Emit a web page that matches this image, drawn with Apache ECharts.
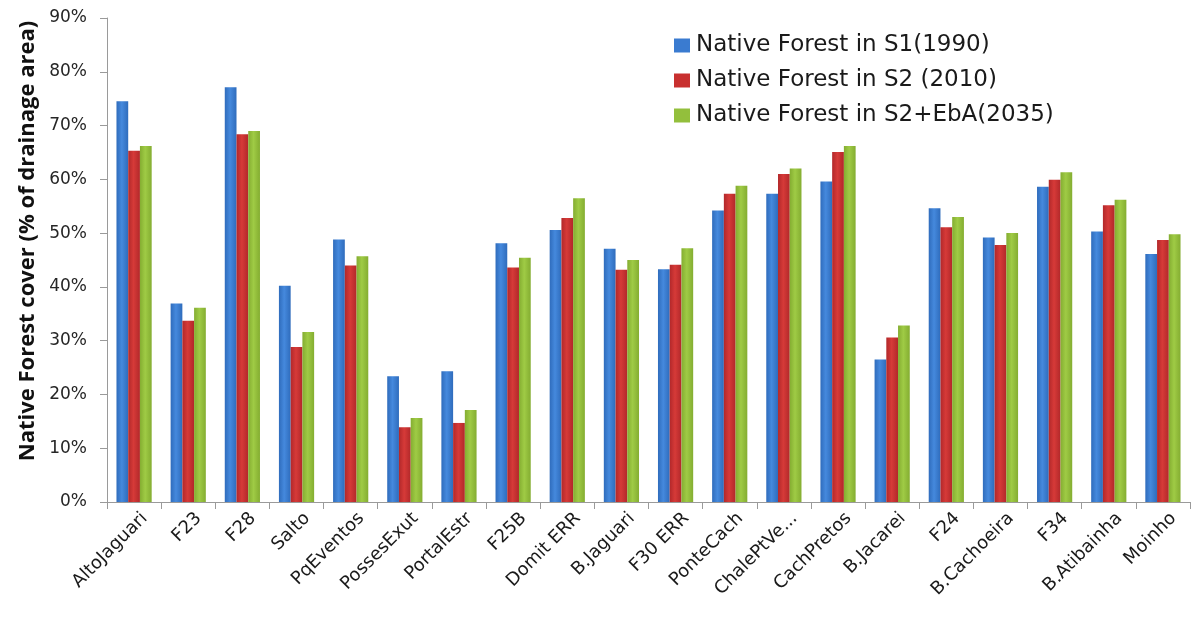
<!DOCTYPE html>
<html>
<head>
<meta charset="utf-8">
<script src="https://cdn.jsdelivr.net/npm/echarts@6/dist/echarts.min.js"></script>
<style>
  html, body { margin: 0; padding: 0; background: #fff; }
  #chart { width: 1193px; height: 619px; }
</style>
</head>
<body>
<div id="chart"></div>
<script>
// Drainage areas (x-axis categories)
const categories = ['AltoJaguari', 'F23', 'F28', 'Salto', 'PqEventos', 'PossesExut', 'PortalEstr',
  'F25B', 'Domit ERR', 'B.Jaguari', 'F30 ERR', 'PonteCach', 'ChalePtVe...', 'CachPretos',
  'B.Jacarei', 'F24', 'B.Cachoeira', 'F34', 'B.Atibainha', 'Moinho'];

// Native forest cover, % of drainage area
const s1_1990 = [74.5, 36.9, 77.1, 40.2, 48.8, 23.4, 24.3, 48.1, 50.6, 47.1, 43.3, 54.2, 57.3, 59.6, 26.5, 54.6, 49.2, 58.6, 50.3, 46.1];
const s2_2010 = [65.3, 33.7, 68.4, 28.8, 44.0, 13.9, 14.7, 43.6, 52.8, 43.2, 44.1, 57.3, 61.0, 65.1, 30.6, 51.1, 47.8, 59.9, 55.2, 48.7];
const s2eba_2035 = [66.2, 36.1, 69.0, 31.6, 45.7, 15.6, 17.1, 45.4, 56.5, 45.0, 47.2, 58.8, 62.0, 66.2, 32.8, 53.0, 50.0, 61.3, 56.2, 49.8];

const seriesNames = ['Native Forest in S1(1990)', 'Native Forest in S2 (2010)', 'Native Forest in S2+EbA(2035)'];
const yTicks = [0, 10, 20, 30, 40, 50, 60, 70, 80, 90];

const FONT = '"DejaVu Sans", "Open Sans", sans-serif';
const TITLE_FONT = '"Open Sans", "DejaVu Sans", sans-serif';

function shade(edge, mid) {
  return new echarts.graphic.LinearGradient(0, 0, 1, 0, [
    { offset: 0, color: edge },
    { offset: 0.45, color: mid },
    { offset: 1, color: edge }
  ]);
}

const palette = [
  { legend: '#3a7bd0', bar: shade('#2f6cbc', '#4589dd') },
  { legend: '#c8302f', bar: shade('#b2282a', '#d63a38') },
  { legend: '#93bf3c', bar: shade('#84ad31', '#9fcb45') }
];

const dataSets = [s1_1990, s2_2010, s2eba_2035];

const chart = echarts.init(document.getElementById('chart'), null, { renderer: 'canvas' });

chart.setOption({
  backgroundColor: '#ffffff',
  animation: false,
  grid: { left: 107, right: 3, top: 18, bottom: 117, containLabel: false },
  legend: {
    orient: 'vertical',
    left: 669,
    top: 29,
    itemWidth: 16,
    itemHeight: 14,
    itemGap: 12,
    icon: 'rect',
    textStyle: { fontFamily: FONT, fontSize: 23, color: '#1a1a1a', padding: [0, 0, 0, 1] },
    data: seriesNames.map((n, i) => ({ name: n, itemStyle: { color: palette[i].legend } }))
  },
  xAxis: {
    type: 'category',
    data: categories,
    axisLine: { lineStyle: { color: '#9a9a9a', width: 1 } },
    axisTick: { show: true, length: 7, lineStyle: { color: '#9a9a9a' } },
    axisLabel: {
      rotate: 45,
      interval: 0,
      margin: 3,
      verticalAlign: 'top',
      lineHeight: 30,
      fontFamily: FONT,
      fontSize: 18,
      color: '#1a1a1a'
    }
  },
  yAxis: {
    type: 'value',
    min: 0,
    max: 90,
    interval: 10,
    axisLine: { show: true, lineStyle: { color: '#9a9a9a', width: 1 } },
    axisTick: { show: true, inside: false, length: 7, lineStyle: { color: '#9a9a9a' } },
    splitLine: { show: false },
    axisLabel: {
      margin: 20,
      fontFamily: FONT,
      fontSize: 17,
      color: '#262626',
      formatter: v => yTicks.includes(v) ? v + '%' : ''
    },
    name: 'Native Forest cover (% of drainage area)',
    nameLocation: 'middle',
    nameGap: 65,
    nameTextStyle: {
      fontFamily: TITLE_FONT, fontSize: 22, fontWeight: 'bold', color: '#111111',
      padding: [0, 0, 0, 38]
    }
  },
  series: dataSets.map((d, i) => ({
    name: seriesNames[i],
    type: 'bar',
    data: d,
    barGap: '0%',
    barCategoryGap: '35%',
    itemStyle: { color: palette[i].bar }
  }))
});
</script>
</body>
</html>
